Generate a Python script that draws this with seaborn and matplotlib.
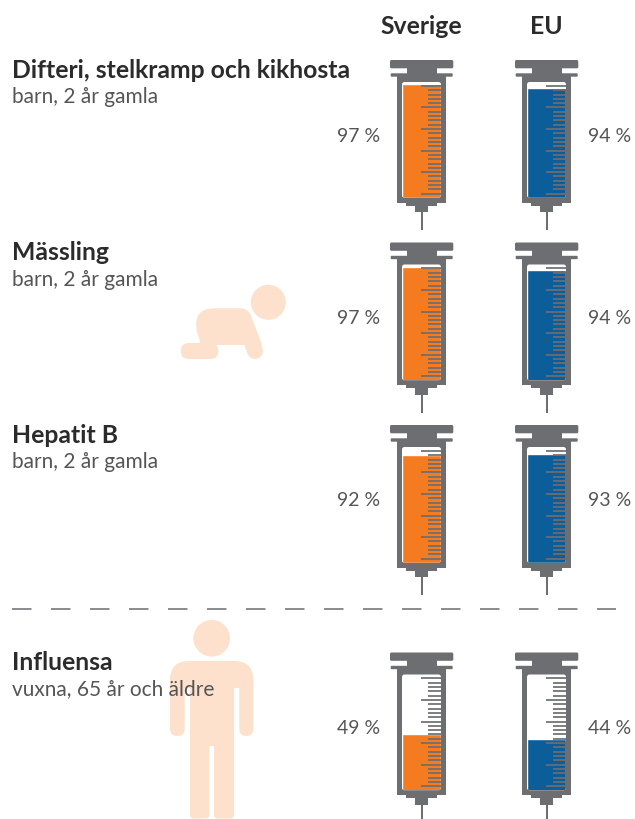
import numpy as np
import matplotlib
matplotlib.use('Agg')
import matplotlib.pyplot as plt
from matplotlib.patches import Circle, FancyBboxPatch, PathPatch, Rectangle
from matplotlib.path import Path
import seaborn as sns

# values
titles = ['Difteri, stelkramp och kikhosta', 'Mässling', 'Hepatit B', 'Influensa']
subtitles = ['barn, 2 år gamla', 'barn, 2 år gamla', 'barn, 2 år gamla', 'vuxna, 65 år och äldre']
sverige = [97, 97, 92, 49]
eu = [94, 94, 93, 44]
columns = ['Sverige', 'EU']

GRAY = '#6d6e71'
ORANGE = '#f47b20'
BLUE = '#0b5e99'
PEACH = '#fde1cc'
DARK = '#2b2b2b'
TEXT = '#555555'
FONT = 'Lato'

W, H = 635, 819
row_off = [0, 182.5, 365, 592.5]
col_off = [0, 125]

sns.set_theme(style='white')
plt.rcParams['font.family'] = [FONT, 'DejaVu Sans']

fig = plt.figure(figsize=(W / 100, H / 100), dpi=100)
bg = fig.add_axes([0, 0, 1, 1], zorder=0)
bg.set_xlim(0, W)
bg.set_ylim(H, 0)
bg.axis('off')


def rbox(x0, y0, x1, y1, r, color, z=1):
    p = FancyBboxPatch((x0 + r, y0 + r), x1 - x0 - 2 * r, y1 - y0 - 2 * r,
                       boxstyle=f'round,pad={r},rounding_size={r}',
                       fc=color, ec='none', zorder=z)
    bg.add_patch(p)
    return p


def rect(x0, y0, x1, y1, color, z=1):
    bg.add_patch(Rectangle((x0, y0), x1 - x0, y1 - y0, fc=color, ec='none', zorder=z))


def curve(points, color, z=1):
    # points: (code, x, y), Q uses two entries
    verts = [(x, y) for _, x, y in points]
    codes = [c for c, _, _ in points]
    bg.add_patch(PathPatch(Path(verts, codes), fc=color, ec='none', zorder=z))


M, L, Q = Path.MOVETO, Path.LINETO, Path.CURVE3

# baby
bg.add_patch(Circle((268.3, 302.3), 17.5, fc=PEACH, ec='none'))
rbox(180.7, 343, 218.3, 359, 8, PEACH)
curve([(M, 201, 345), (L, 197, 332), (Q, 192, 308), (Q, 215, 308.3), (L, 240, 308.3),
       (Q, 248, 308), (Q, 251, 316), (L, 262, 345), (L, 245, 345), (L, 201, 345)], PEACH)
bg.plot([243, 255], [318, 351], color=PEACH, lw=11.5, solid_capstyle='round', zorder=1)

# adult
bg.add_patch(Circle((211.7, 638.3), 18.3, fc=PEACH, ec='none'))
curve([(M, 170, 688), (L, 170, 680), (Q, 170, 661), (Q, 189, 661), (L, 234, 661),
       (Q, 253.3, 661), (Q, 253.3, 680), (L, 253.3, 688), (L, 170, 688)], PEACH)
rbox(170, 672, 184.7, 736, 7, PEACH)
rbox(239.3, 672, 253.3, 736, 7, PEACH)
rect(190, 665, 234, 746, PEACH)
rbox(190, 735, 209.3, 818.5, 4, PEACH)
rbox(214, 735, 234, 818.5, 4, PEACH)


def syringe(dx, dy, value, color, name):
    rbox(390 + dx, 60 + dy, 453.3 + dx, 68.3 + dy, 1.5, GRAY)
    rect(406.7 + dx, 66 + dy, 436.7 + dx, 78 + dy, GRAY)
    rbox(390.7 + dx, 73.3 + dy, 452.7 + dx, 76.7 + dy, 1, GRAY)
    rect(396.7 + dx, 75 + dy, 446.3 + dx, 202.7 + dy, GRAY)
    rect(406 + dx, 202 + dy, 436.7 + dx, 205.5 + dy, GRAY)
    rect(415 + dx, 205 + dy, 428.3 + dx, 212 + dy, GRAY)
    rect(420.7 + dx, 211 + dy, 422.7 + dx, 230 + dy, GRAY)
    hole = rbox(402 + dx, 82 + dy, 441 + dx, 197.7 + dy, 2.5, 'white', z=2)

    ax = fig.add_axes([(402 + dx) / W, 1 - (197.7 + dy) / H, 39 / W, 115.7 / H], zorder=1)
    ax.patch.set_alpha(0)
    sns.barplot(x=[name], y=[value], color=color, saturation=1, width=1, ax=ax)
    ax.set_xlim(-0.5, 0.5)
    ax.set_ylim(1, 99)
    ax.set_xticks([])
    ax.set_xlabel('')
    ax.set_ylabel('')
    ticks = np.linspace(4.4, 95.7, 26)
    ax.set_yticks(ticks[::5])
    ax.set_yticks(np.delete(ticks, np.arange(0, 26, 5)), minor=True)
    ax.yaxis.tick_right()
    ax.tick_params(axis='y', which='major', direction='in', length=14.4, width=1.25,
                   color=GRAY, labelright=False, labelleft=False)
    ax.tick_params(axis='y', which='minor', direction='in', length=9.1, width=1.25,
                   color=GRAY, labelright=False, labelleft=False)
    ax.set_axisbelow(False)
    sns.despine(ax=ax, left=True, bottom=True, right=True, top=True)
    for bar in ax.patches:
        bar.set_clip_path(Path(hole.get_path().vertices, hole.get_path().codes), bg.transData)


# hole patches sit under the transparent syringe axes
for i in range(4):
    dy = row_off[i]
    syringe(col_off[0], dy, sverige[i], ORANGE, columns[0])
    syringe(col_off[1], dy, eu[i], BLUE, columns[1])
    bg.text(12, 70.5 + dy, titles[i], fontsize=17.85, fontweight='bold', color=DARK,
            va='center', ha='left', zorder=5)
    bg.text(12, 97 + dy, subtitles[i], fontsize=15, color=TEXT,
            va='center', ha='left', zorder=5)
    bg.text(380, 136 + dy, f'{sverige[i]} %', fontsize=14, color=TEXT,
            va='center', ha='right', zorder=5)
    bg.text(588, 136 + dy, f'{eu[i]} %', fontsize=14, color=TEXT,
            va='center', ha='left', zorder=5)

bg.text(421.5, 26, columns[0], fontsize=17.85, fontweight='bold', color=DARK, ha='center', va='center')
bg.text(546, 26, columns[1], fontsize=17.85, fontweight='bold', color=DARK, ha='center', va='center')

bg.plot([12, 616], [608.5, 608.5], color='#77787b', lw=1.2, dashes=(11.7, 11.7), zorder=1)

fig.savefig('out.png', dpi=100)
